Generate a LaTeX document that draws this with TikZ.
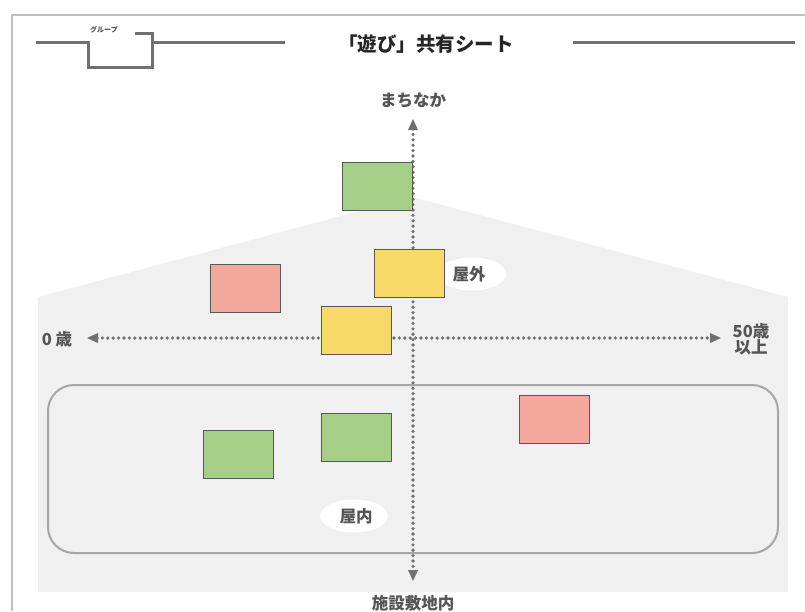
\documentclass[tikz,border=0pt]{standalone}
\usepackage{fontspec}
\setmainfont{Noto Sans CJK JP}
\usetikzlibrary{arrows.meta,shapes.geometric}
\definecolor{txt}{HTML}{555555}
\definecolor{ln}{HTML}{707070}
\definecolor{bgpoly}{HTML}{F0F0F0}
\definecolor{gbox}{HTML}{A5CF87}
\definecolor{ybox}{HTML}{F9D86A}
\definecolor{rbox}{HTML}{F4A89D}
\tikzset{
  card/.style={draw=black!65,line width=1pt,minimum width=70pt,minimum height=48pt,inner sep=0pt},
  lbl/.style={text=txt,font=\fontsize{16.5}{19}\selectfont\bfseries,inner sep=1pt},
  axis/.style={draw=ln,line width=3.6pt,line cap=round,dash pattern=on 0pt off 5.4pt},
  tipw/.style={draw=none,fill=ln},
  hdr/.style={draw=ln,line width=3pt},
  bubble/.style={fill=white,ellipse,minimum width=68pt,minimum height=33pt,inner sep=0pt}
}
\begin{document}
\begin{tikzpicture}[x=1pt,y=-1pt]
\useasboundingbox (0,0) rectangle (805,611);
\fill[white] (0,0) rectangle (805,611);
% outer frame
\draw[black!25,line width=1.5pt] (12,611) -- (12,15) -- (805,15);
% gray background polygon
\fill[bgpoly] (38,592) -- (38,297) -- (412,197) -- (788,297) -- (788,592) -- cycle;
% header
\draw[hdr] (36,42) -- (88,42) -- (88,67) -- (152,67) -- (152,33) -- (135,33);
\draw[hdr] (152,42) -- (285,42);
\draw[hdr] (573,42) -- (795,42);
\node[text=txt,font=\fontsize{7}{8}\selectfont\itshape\bfseries,inner sep=0pt] (grp) at (104,30) {グループ};
\node[text=black!85,font=\fontsize{19.5}{21}\selectfont\bfseries] (title) at (426,44) {「遊び」共有シート};
% rounded region
\draw[black!35,line width=2pt,rounded corners=26pt] (48,385) rectangle (778,553);
% axes
\coordinate (vb) at (413,581);
\coordinate (vt) at (413,119);
\coordinate (hl) at (87,338);
\coordinate (hr) at (721,338);
\draw[axis] (413,129) -- (413,571);
\draw[axis] (97,338) -- (711,338);
\fill[tipw] (vt) -- ++(-5,11) -- ++(10,0) -- cycle;
\fill[tipw] (vb) -- ++(-5,-11) -- ++(10,0) -- cycle;
\fill[tipw] (hl) -- ++(11,-5) -- ++(0,10) -- cycle;
\fill[tipw] (hr) -- ++(-11,-5) -- ++(0,10) -- cycle;
% axis labels
\node[lbl] (top) at (413,100) {まちなか};
\node[lbl] (bot) at (413,603) {施設敷地内};
\node[lbl] (left) at (57,339) {0 歳};
\node[lbl,align=center] (right) at (751,339) {50歳\\[-3pt]以上};
% bubbles
\node[bubble] (out) at (472,274) {};
\node[lbl] (outt) at (469,274) {屋外};
\node[bubble] (in) at (354,516) {};
\node[lbl] (int) at (356,516) {屋内};
% cards
\node[card,fill=gbox] (g1) at (377,186) {};
\node[card,fill=ybox] (y1) at (409,273) {};
\node[card,fill=rbox] (r1) at (245,288) {};
\node[card,fill=ybox] (y2) at (356,330) {};
\node[card,fill=rbox] (r2) at (554,419) {};
\node[card,fill=gbox] (g2) at (356,437) {};
\node[card,fill=gbox] (g3) at (238,454) {};
\end{tikzpicture}
\end{document}
